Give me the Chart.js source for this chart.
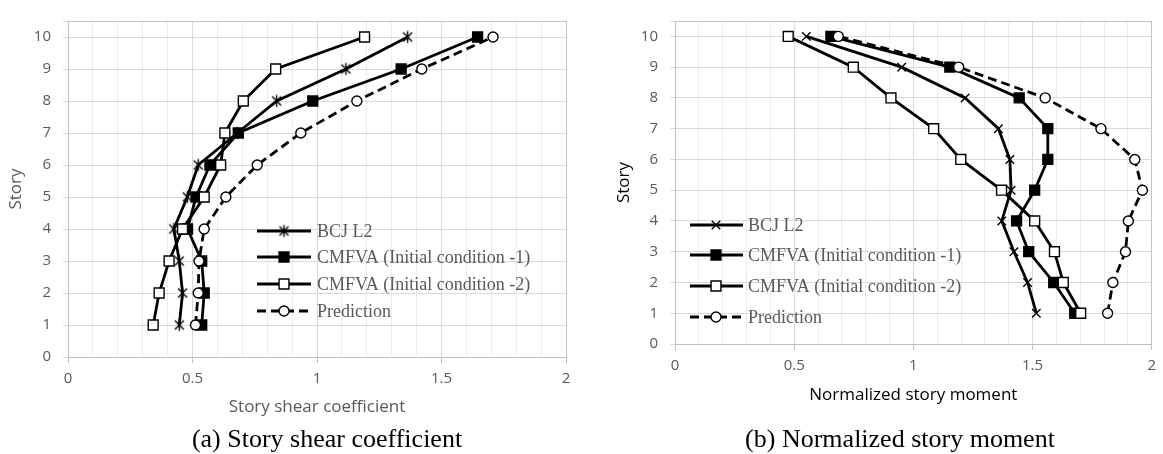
<!DOCTYPE html>
<html>
<head>
<meta charset="utf-8">
<script src="https://cdn.jsdelivr.net/npm/chart.js@4/dist/chart.umd.min.js"></script>
<style>
  body { margin: 0; background: #fff; }
  #wrap { position: relative; width: 1163px; height: 454px; overflow: hidden; }
  #shear-chart { position: absolute; left: 0; top: 0; }
  #moment-chart { position: absolute; left: 580px; top: 0; }
  .cap { position: absolute; top: 424px; line-height: 30px; font-family: "Liberation Serif", "DejaVu Serif", serif;
         font-size: 26px; color: #000; white-space: nowrap; transform: translateX(-50%); }
</style>
</head>
<body>
<div id="wrap">
  <canvas id="shear-chart" width="580" height="454"></canvas>
  <canvas id="moment-chart" width="583" height="454"></canvas>
  <div class="cap" style="left:327px">(a) Story shear coefficient</div>
  <div class="cap" style="left:900px">(b) Normalized story moment</div>
</div>
<script>
// data, story 1 -> 10
const stories = [1, 2, 3, 4, 5, 6, 7, 8, 9, 10];
const seriesNames = ['BCJ L2', 'CMFVA (Initial condition -1)', 'CMFVA (Initial condition -2)', 'Prediction'];

const shearBCJ   = [0.447, 0.460, 0.447, 0.425, 0.479, 0.523, 0.680, 0.838, 1.116, 1.364];
const shearInit1 = [0.537, 0.547, 0.537, 0.480, 0.514, 0.570, 0.684, 0.983, 1.338, 1.645];
const shearInit2 = [0.342, 0.366, 0.406, 0.460, 0.547, 0.613, 0.630, 0.704, 0.834, 1.191];
const shearPred  = [0.512, 0.523, 0.526, 0.547, 0.634, 0.760, 0.935, 1.160, 1.421, 1.707];

const momentBCJ   = [1.516, 1.479, 1.422, 1.371, 1.410, 1.405, 1.357, 1.217, 0.951, 0.551];
const momentInit1 = [1.677, 1.589, 1.484, 1.433, 1.509, 1.564, 1.564, 1.444, 1.153, 0.654];
const momentInit2 = [1.702, 1.629, 1.592, 1.509, 1.370, 1.199, 1.085, 0.906, 0.748, 0.475];
const momentPred  = [1.815, 1.837, 1.890, 1.902, 1.961, 1.929, 1.787, 1.553, 1.190, 0.685];

const xTickLabels = [0, 0.5, 1, 1.5, 2];
const yTickLabels = [0, 1, 2, 3, 4, 5, 6, 7, 8, 9, 10];
const yTop = 10.5;

// excel style asterisk marker
const asterisk = (() => {
  const c = document.createElement('canvas');
  c.width = 15; c.height = 15;
  const g = c.getContext('2d');
  g.strokeStyle = '#000';
  g.lineWidth = 1.4;
  g.beginPath();
  g.moveTo(7.5, 1.5); g.lineTo(7.5, 13.5);
  g.moveTo(3, 3); g.lineTo(12, 12);
  g.moveTo(12, 3); g.lineTo(3, 12);
  g.stroke();
  return c;
})();

const toPoints = (vals) => vals.map((v, i) => ({ x: v, y: stories[i] }));

const makeDatasets = (vals, bcjMarker) => {
  const base = { showLine: true, borderColor: '#000', borderWidth: 2.8, pointBorderColor: '#000', pointBorderWidth: 1.4 };
  return [
    { ...base, label: seriesNames[0], data: toPoints(vals[0]), pointStyle: bcjMarker, pointRadius: 6, pointBackgroundColor: '#000', order: 4 },
    { ...base, label: seriesNames[1], data: toPoints(vals[1]), pointStyle: 'rect', pointRadius: 7, pointBackgroundColor: '#000', order: 3 },
    { ...base, label: seriesNames[2], data: toPoints(vals[2]), pointStyle: 'rect', pointRadius: 7, pointBackgroundColor: '#fff', order: 2 },
    { ...base, label: seriesNames[3], data: toPoints(vals[3]), pointStyle: 'circle', pointRadius: 5, pointBackgroundColor: '#fff', borderDash: [9, 5], order: 1 }
  ];
};

const floatLegend = {
  id: 'floatLegend',
  afterDatasetsDraw(chart, args, opts) {
    const ctx = chart.ctx;
    ctx.save();
    chart.data.datasets.forEach((ds, i) => {
      const y = opts.rows[i];
      ctx.strokeStyle = '#000';
      ctx.lineWidth = ds.borderWidth;
      ctx.setLineDash(ds.borderDash || []);
      ctx.beginPath();
      ctx.moveTo(opts.lineFrom, y);
      ctx.lineTo(opts.lineTo, y);
      ctx.stroke();
      ctx.setLineDash([]);
      ctx.fillStyle = ds.pointBackgroundColor;
      ctx.strokeStyle = ds.pointBorderColor;
      ctx.lineWidth = ds.pointBorderWidth;
      Chart.helpers.drawPoint(ctx, { pointStyle: ds.pointStyle, radius: ds.pointRadius, rotation: 0, borderWidth: ds.pointBorderWidth }, opts.marker, y);
      ctx.fillStyle = '#595959';
      ctx.font = '18px "Liberation Serif", "DejaVu Serif", serif';
      ctx.textBaseline = 'middle';
      ctx.textAlign = 'left';
      ctx.fillText(ds.label, opts.textX, y + 1);
    });
    ctx.restore();
  }
};

const near = (a, b) => Math.abs(a - b) < 1e-6;

const makeScales = (o) => ({
  x: {
    type: 'linear', min: 0, max: 2,
    afterFit: (s) => { s.height = o.xHeight; },
    border: { color: '#bfbfbf' },
    grid: {
      tickLength: 6,
      color: (c) => near(c.tick.value, 2) ? '#c4c4c4' : (xTickLabels.some(t => near(t, c.tick.value)) ? '#d9d9d9' : '#ececec'),
      tickColor: (c) => xTickLabels.some(t => near(t, c.tick.value)) ? '#bfbfbf' : 'rgba(0,0,0,0)'
    },
    ticks: {
      stepSize: 0.1, autoSkip: false, maxRotation: 0, padding: 7, color: '#595959',
      font: { family: 'Open Sans', size: 15 },
      callback: (v) => {
        const t = xTickLabels.find(k => near(k, v));
        return t === undefined ? '' : String(t);
      }
    },
    title: { display: true, text: o.xTitle, color: o.titleColor, font: { family: 'Open Sans', size: 17 }, padding: { top: 0, bottom: o.xTitleBottom } }
  },
  y: {
    type: 'linear', min: 0, max: yTop,
    afterFit: (s) => { s.width = o.yWidth; },
    afterBuildTicks: (s) => { s.ticks = yTickLabels.concat([yTop]).map(v => ({ value: v })); },
    border: { color: '#bfbfbf' },
    grid: {
      tickLength: 5,
      color: (c) => near(c.tick.value, yTop) ? '#c4c4c4' : '#d9d9d9',
      tickColor: '#d9d9d9'
    },
    ticks: {
      padding: 12, color: '#595959',
      font: { family: 'Open Sans', size: 15 },
      callback: (v) => yTickLabels.includes(v) ? String(v) : ''
    },
    title: { display: true, text: 'Story', color: o.titleColor, font: { family: 'Open Sans', size: 17 }, padding: { top: o.yTitleTop, bottom: 0 } }
  }
});

const drawChart = (id, vals, bcjMarker, o) => {
  const canvas = document.getElementById(id).getContext('2d');
  new Chart(canvas, {
    type: 'scatter',
    data: { datasets: makeDatasets(vals, bcjMarker) },
    options: {
      responsive: false,
      animation: false,
      layout: { padding: { left: 0, right: o.padRight, top: o.padTop, bottom: 0 } },
      scales: makeScales(o),
      plugins: {
        legend: { display: false },
        tooltip: { enabled: false },
        floatLegend: o.legend
      }
    },
    plugins: [floatLegend]
  });
};

drawChart('shear-chart', [shearBCJ, shearInit1, shearInit2, shearPred], asterisk, {
  padRight: 14, padTop: 7, xHeight: 97, yWidth: 68,
  xTitle: 'Story shear coefficient', titleColor: '#595959', xTitleBottom: 37, yTitleTop: 6,
  legend: { lineFrom: 257, lineTo: 311, marker: 284, textX: 317, rows: [231, 257, 284, 311] }
});

drawChart('moment-chart', [momentBCJ, momentInit1, momentInit2, momentPred], 'crossRot', {
  padRight: 4, padTop: 9, xHeight: 110, yWidth: 95,
  xTitle: 'Normalized story moment', titleColor: '#000', xTitleBottom: 49, yTitleTop: 34,
  legend: { lineFrom: 110, lineTo: 163, marker: 136, textX: 168, rows: [225, 255, 286, 317] }
});
</script>
</body>
</html>
